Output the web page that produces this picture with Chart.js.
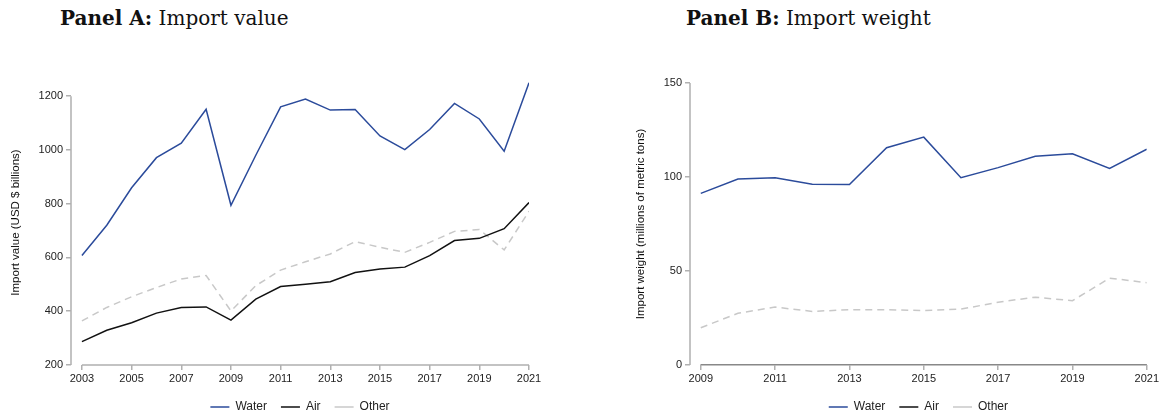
<!DOCTYPE html>
<html>
<head>
<meta charset="utf-8">
<script src="https://cdn.jsdelivr.net/npm/chart.js@4.4.1/dist/chart.umd.min.js"></script>
<style>
  body { margin: 0; background: #fff; width: 1161px; height: 415px; overflow: hidden; position: relative; }
  .title { position: absolute; top: 6px; font-family: "DejaVu Serif", serif; font-size: 20px; color: #111; white-space: nowrap; }
  .title b { font-weight: bold; }
  .panel { position: absolute; top: 0; height: 425px; }
</style>
</head>
<body>
<div class="title" style="left:60px"><b>Panel A:</b> Import value</div>
<div class="title" style="left:686px"><b>Panel B:</b> Import weight</div>
<div class="panel" style="left:0; width:580px;"><canvas id="chartA"></canvas></div>
<div class="panel" style="left:625px; width:536px;"><canvas id="chartB"></canvas></div>
<script>
const yearsA = [2003, 2004, 2005, 2006, 2007, 2008, 2009, 2010, 2011, 2012, 2013, 2014, 2015, 2016, 2017, 2018, 2019, 2020, 2021];
const waterA = [607, 720, 859, 971, 1025, 1151, 794, 980, 1160, 1189, 1148, 1150, 1052, 1001, 1076, 1173, 1115, 995, 1250];
const airA = [287, 329, 357, 393, 414, 416, 367, 445, 492, 500, 510, 544, 557, 564, 607, 663, 671, 707, 804];
const otherA = [364, 414, 454, 488, 520, 533, 401, 495, 553, 584, 613, 659, 638, 619, 656, 697, 704, 628, 772];
const xTicksA = [2003, 2005, 2007, 2009, 2011, 2013, 2015, 2017, 2019, 2021];
const yTicksA = [200, 400, 600, 800, 1000, 1200];

const yearsB = [2009, 2010, 2011, 2012, 2013, 2014, 2015, 2016, 2017, 2018, 2019, 2020, 2021];
const waterB = [91.3, 98.9, 99.6, 96.1, 96.0, 115.6, 121.2, 99.6, 105.0, 111.0, 112.4, 104.6, 114.8];
const airB = [0.1, 0.1, 0.1, 0.1, 0.1, 0.1, 0.1, 0.1, 0.1, 0.1, 0.1, 0.1, 0.1];
const otherB = [19.8, 27.5, 30.8, 28.5, 29.4, 29.4, 29.0, 29.7, 33.4, 36.1, 34.2, 46.2, 43.8];
const xTicksB = [2009, 2011, 2013, 2015, 2017, 2019, 2021];
const yTicksB = [0, 50, 100, 150];

const axisGray = '#b0b0b0';
const sans = '"Liberation Sans Narrow", "Liberation Sans", Arial, sans-serif';
const tickFont = { family: sans, size: 11 };

// R-style axes: lines only span first to last tick
const rAxes = {
  id: 'rAxes',
  afterDraw(chart) {
    const ctx = chart.ctx, x = chart.scales.x, y = chart.scales.y;
    const xt = x.ticks, yt = y.ticks;
    ctx.save();
    ctx.strokeStyle = axisGray;
    ctx.lineWidth = 1.5;
    ctx.beginPath();
    ctx.moveTo(x.left, y.getPixelForValue(yt[0].value));
    ctx.lineTo(x.left, y.getPixelForValue(yt[yt.length - 1].value));
    ctx.moveTo(x.getPixelForValue(xt[0].value), y.bottom);
    ctx.lineTo(x.getPixelForValue(xt[xt.length - 1].value), y.bottom);
    ctx.stroke();
    ctx.restore();
  }
};

function pts(xs, ys) { return xs.map((v, i) => ({ x: v, y: ys[i] })); }

function makeChart(id, years, water, air, other, xTicks, yTicks, opt) {
  const ds = (label, data, color, dash) => ({
    label, data: pts(years, data), borderColor: color, backgroundColor: color,
    borderWidth: 1.5, borderDash: dash, pointRadius: 0, tension: 0
  });
  return new Chart(document.getElementById(id), {
    type: 'line',
    data: {
      datasets: [
        ds('Water', water, '#2b4b9b', []),
        ds('Air', air, '#111111', []),
        ds('Other', other, '#c8c8c8', [7, 5])
      ]
    },
    options: {
      responsive: true, maintainAspectRatio: false, animation: false,
      layout: { padding: { top: opt.top, right: opt.right, left: 0, bottom: 2 } },
      plugins: {
        tooltip: { enabled: false },
        legend: {
          position: 'bottom', fullSize: false,
          labels: {
            usePointStyle: true, pointStyle: 'line', pointStyleWidth: 19,
            boxHeight: 12, padding: 14, color: '#222',
            font: { family: sans, size: 12 }
          }
        }
      },
      scales: {
        x: {
          type: 'linear', min: opt.xmin, max: opt.xmax,
          afterBuildTicks: s => { s.ticks = xTicks.map(v => ({ value: v })); },
          afterFit: s => { s.height = 22; },
          border: { display: false },
          grid: { drawOnChartArea: false, drawTicks: true, tickLength: 5, color: axisGray, lineWidth: 1.5 },
          ticks: { color: '#222', font: tickFont, padding: 2, maxRotation: 0, autoSkip: false, callback: v => String(v) }
        },
        y: {
          min: opt.ymin, max: opt.ymax,
          afterBuildTicks: s => { s.ticks = yTicks.map(v => ({ value: v })); },
          afterFit: s => { s.width = opt.yw; },
          border: { display: false },
          grid: { drawOnChartArea: false, drawTicks: true, tickLength: 5, color: axisGray, lineWidth: 1.5 },
          ticks: { color: '#222', font: tickFont, padding: 3, callback: v => String(v) },
          title: { display: true, text: opt.ytitle, color: '#111', font: { family: sans, size: 11.5 }, padding: { top: 9, bottom: 0 } }
        }
      }
    },
    plugins: [rAxes]
  });
}

makeChart('chartA', yearsA, waterA, airA, otherA, xTicksA, yTicksA,
  { top: 80, right: 51, xmin: 2002.56, xmax: 2021, ymin: 200, ymax: 1260, yw: 71, ytitle: 'Import value (USD $ billions)' });
makeChart('chartB', yearsB, waterB, airB, otherB, xTicksB, yTicksB,
  { top: 83, right: 8, xmin: 2008.71, xmax: 2021, ymin: 0, ymax: 150, yw: 65, ytitle: 'Import weight (millions of metric tons)' });
</script>
</body>
</html>
